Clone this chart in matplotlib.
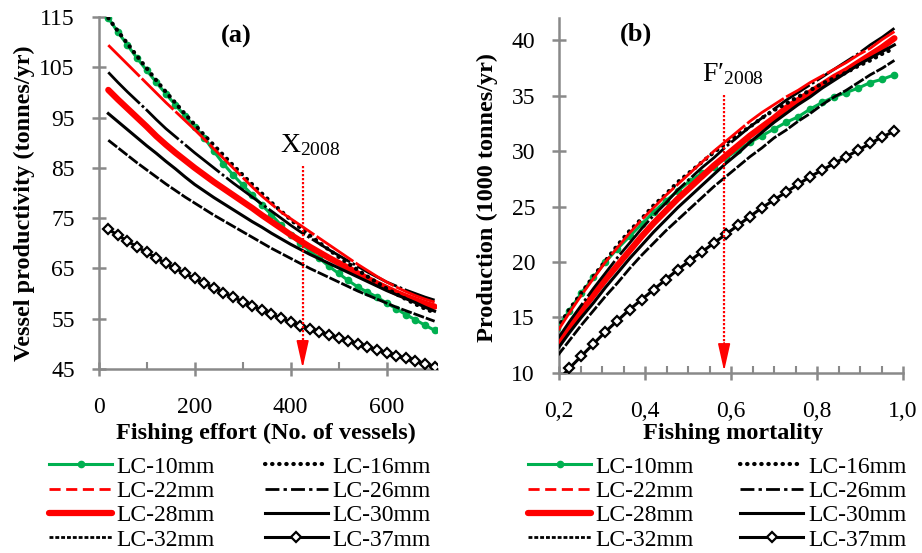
import matplotlib
matplotlib.use('Agg')
import matplotlib.pyplot as plt
from matplotlib.lines import Line2D

plt.rcParams['font.family'] = ['Liberation Serif', 'DejaVu Serif']
plt.rcParams['mathtext.fontset'] = 'custom'
plt.rcParams['mathtext.rm'] = 'Liberation Serif'
plt.rcParams['mathtext.it'] = 'Liberation Serif:italic'
plt.rcParams['mathtext.bf'] = 'Liberation Serif:bold'

GRAY = '#898989'
GREEN = '#00B050'
RED = '#FF0000'

# ---- panel (a): vessel productivity vs fishing effort ----
effort = list(range(20, 701, 20))

prod_lc10 = [114.8, 112.0, 109.4, 106.8, 104.4, 102.0, 99.7, 97.5, 95.3, 93.2, 91.0, 88.3, 85.8, 83.6, 81.6,
             79.6, 77.6, 75.7, 73.6, 71.6, 70.0, 68.5, 67.0, 65.4, 64.0, 62.6, 61.3, 60.3, 59.3, 58.1,
             57.0, 55.8, 54.8, 53.7, 52.7]
prod_lc16 = [114.8, 112.2, 109.7, 107.2, 104.8, 102.4, 100.1, 97.9, 95.7, 93.6, 91.5, 89.5, 87.5, 85.5, 83.6,
             81.7, 79.9, 78.1, 76.4, 74.7, 73.1, 71.6, 70.1, 68.7, 67.3, 66.0, 64.7, 63.4, 62.2, 61.0,
             59.9, 58.9, 57.9, 57.0, 56.2]
prod_lc22 = [109.4, 107.5, 105.6, 103.7, 101.8, 99.9, 98.0, 96.2, 94.4, 92.6, 90.7, 88.8, 86.9, 85.0, 83.1,
             81.2, 79.4, 77.8, 76.2, 74.9, 73.6, 72.3, 71.0, 69.7, 68.4, 67.1, 65.8, 64.6, 63.4, 62.3,
             61.3, 60.4, 59.6, 58.9, 58.3]
prod_lc26 = [104.0, 102.0, 100.1, 98.3, 96.5, 94.6, 92.8, 91.2, 89.6, 88.0, 86.5, 85.0, 83.5, 82.0, 80.6,
             79.2, 77.8, 76.4, 75.0, 73.6, 72.3, 71.1, 69.9, 68.7, 67.6, 66.5, 65.4, 64.3, 63.3, 62.3,
             61.5, 60.7, 60.0, 59.3, 58.7]
prod_lc28 = [100.5, 98.6, 96.8, 95.0, 93.2, 91.3, 89.6, 88.0, 86.5, 85.0, 83.6, 82.2, 80.9, 79.6, 78.3,
             77.0, 75.6, 74.3, 73.0, 71.7, 70.5, 69.3, 68.2, 67.1, 66.1, 65.1, 64.0, 63.0, 62.0, 61.1,
             60.2, 59.4, 58.7, 58.0, 57.4]
prod_lc30 = [95.8, 94.2, 92.6, 91.0, 89.4, 87.9, 86.3, 84.8, 83.2, 81.7, 80.4, 79.1, 77.9, 76.7, 75.5,
             74.3, 73.2, 72.0, 70.9, 69.8, 68.8, 67.8, 66.9, 66.0, 65.1, 64.2, 63.3, 62.4, 61.5, 60.6,
             59.8, 59.0, 58.2, 57.3, 56.5]
prod_lc32 = [90.5, 89.0, 87.5, 86.0, 84.6, 83.2, 81.8, 80.5, 79.2, 78.0, 76.8, 75.6, 74.5, 73.4, 72.3,
             71.2, 70.1, 69.0, 68.0, 67.0, 66.0, 65.0, 64.1, 63.2, 62.3, 61.4, 60.5, 59.7, 58.9, 58.1,
             57.3, 56.6, 55.9, 55.2, 54.5]
prod_lc37 = [72.8, 71.6, 70.4, 69.3, 68.2, 67.1, 66.0, 65.0, 64.0, 63.0, 62.1, 61.1, 60.2, 59.3, 58.4,
             57.5, 56.7, 55.9, 55.1, 54.3, 53.6, 53.0, 52.4, 51.8, 51.2, 50.6, 50.0, 49.4, 48.8, 48.2,
             47.6, 47.1, 46.5, 46.0, 45.4]

# ---- panel (b): production vs fishing mortality ----
mortality = [0.196, 0.224, 0.252, 0.280, 0.308, 0.336, 0.364, 0.392, 0.420, 0.448, 0.476, 0.504, 0.532,
             0.560, 0.588, 0.616, 0.644, 0.672, 0.700, 0.728, 0.756, 0.784, 0.812, 0.840, 0.868, 0.896,
             0.924, 0.952, 0.980]

catch_lc10 = [14.0, 15.6, 17.2, 18.6, 20.0, 21.2, 22.3, 23.4, 24.5, 25.5, 26.4, 27.3, 28.0, 28.6, 29.4,
              30.1, 30.8, 31.4, 32.0, 32.6, 33.1, 33.8, 34.4, 34.9, 35.3, 35.7, 36.2, 36.5, 36.9]
catch_lc16 = [14.0, 15.7, 17.2, 18.7, 20.1, 21.5, 22.8, 23.9, 25.1, 26.1, 27.2, 28.1, 29.0, 29.9, 30.7,
              31.5, 32.2, 33.0, 33.7, 34.3, 34.9, 35.5, 36.1, 36.6, 37.1, 37.7, 38.2, 38.8, 39.3]
catch_lc22 = [13.7, 15.4, 17.0, 18.5, 20.0, 21.3, 22.6, 23.8, 24.9, 26.0, 27.0, 28.0, 29.0, 30.0, 30.9,
              31.8, 32.7, 33.5, 34.2, 34.9, 35.5, 36.2, 36.8, 37.4, 38.0, 38.7, 39.3, 40.1, 40.8]
catch_lc26 = [13.0, 14.6, 16.1, 17.6, 19.0, 20.4, 21.7, 23.0, 24.2, 25.3, 26.5, 27.5, 28.5, 29.4, 30.4,
              31.3, 32.2, 33.0, 33.8, 34.6, 35.3, 36.0, 36.7, 37.4, 38.1, 38.8, 39.6, 40.3, 41.1]
catch_lc28 = [12.5, 14.1, 15.6, 17.0, 18.4, 19.7, 21.0, 22.3, 23.5, 24.6, 25.7, 26.7, 27.7, 28.7, 29.6,
              30.5, 31.4, 32.2, 33.0, 33.9, 34.6, 35.3, 36.0, 36.7, 37.3, 38.0, 38.7, 39.4, 40.2]
catch_lc30 = [12.1, 13.6, 15.0, 16.3, 17.7, 19.0, 20.3, 21.5, 22.7, 23.8, 24.9, 25.9, 26.9, 27.9, 28.9,
              29.8, 30.8, 31.7, 32.6, 33.4, 34.2, 34.9, 35.7, 36.4, 37.1, 37.8, 38.4, 39.0, 39.6]
catch_lc32 = [11.5, 12.9, 14.3, 15.6, 16.9, 18.1, 19.4, 20.6, 21.7, 22.8, 23.8, 24.8, 25.8, 26.8, 27.7,
              28.6, 29.5, 30.3, 31.2, 31.9, 32.7, 33.4, 34.2, 34.9, 35.5, 36.2, 36.9, 37.5, 38.2]
catch_lc37 = [9.2, 10.4, 11.5, 12.6, 13.7, 14.7, 15.7, 16.6, 17.5, 18.4, 19.3, 20.1, 20.9, 21.7, 22.5,
              23.3, 24.1, 24.9, 25.6, 26.3, 27.0, 27.7, 28.3, 28.9, 29.5, 30.1, 30.7, 31.3, 31.8]

series_names = ['LC-10mm', 'LC-16mm', 'LC-22mm', 'LC-26mm', 'LC-28mm', 'LC-30mm', 'LC-32mm', 'LC-37mm']
legend_order = ['LC-10mm', 'LC-22mm', 'LC-28mm', 'LC-32mm', 'LC-16mm', 'LC-26mm', 'LC-30mm', 'LC-37mm']

prod_a = [prod_lc10, prod_lc16, prod_lc22, prod_lc26, prod_lc28, prod_lc30, prod_lc32, prod_lc37]
catch_b = [catch_lc10, catch_lc16, catch_lc22, catch_lc26, catch_lc28, catch_lc30, catch_lc32, catch_lc37]

yticks_a = [45, 55, 65, 75, 85, 95, 105, 115]
xticks_a = [0, 200, 400, 600]
yticks_b = [10, 15, 20, 25, 30, 35, 40]
xticks_b = [0.2, 0.4, 0.6, 0.8, 1.0]
xticklabels_b = ['0,2', '0,4', '0,6', '0,8', '1,0']

# line look for each size class (on the plot the dashes run long, like Excel draws them)
styles = {
    'LC-10mm': dict(color=GREEN, lw=2.2, ls='-', marker='o', ms=4.5),
    'LC-16mm': dict(color='black', lw=3.0, ls=(0, (0.1, 1.6)), dash_capstyle='round'),
    'LC-22mm': dict(color=RED, lw=2.0, ls=(0, (16, 1))),
    'LC-26mm': dict(color='black', lw=2.0, ls=(0, (16, 1, 1, 1))),
    'LC-28mm': dict(color=RED, lw=4.5, ls='-', solid_capstyle='round'),
    'LC-30mm': dict(color='black', lw=2.2, ls='-'),
    'LC-32mm': dict(color='black', lw=2.0, ls=(0, (4, 0.7))),
    'LC-37mm': dict(color='black', lw=2.2, ls='-', marker='D', ms=5, mfc='white', mec='black', mew=1.6),
}
# the legend keys show the short dash patterns
legend_styles = dict(styles)
legend_styles['LC-22mm'] = dict(color=RED, lw=2.0, ls=(0, (4, 2)))
legend_styles['LC-26mm'] = dict(color='black', lw=2.0, ls=(0, (5, 1.5, 1.2, 1.5)))
legend_styles['LC-32mm'] = dict(color='black', lw=2.0, ls=(0, (1.4, 0.7)))

zorders = {'LC-10mm': 3, 'LC-16mm': 4, 'LC-22mm': 5, 'LC-26mm': 4, 'LC-28mm': 3, 'LC-30mm': 4,
           'LC-32mm': 4, 'LC-37mm': 4}


def style_axes(ax):
    for side in ['top', 'right']:
        ax.spines[side].set_visible(False)
    for side in ['left', 'bottom']:
        ax.spines[side].set_color(GRAY)
        ax.spines[side].set_linewidth(1.8)
    ax.tick_params(which='major', direction='inout', length=10.5, width=1.8, color=GRAY, labelsize=17)
    ax.tick_params(axis='y', which='major', pad=12)
    ax.tick_params(axis='x', which='major', pad=15)
    ax.tick_params(which='minor', direction='in', length=5, width=1.5, color=GRAY)


def add_legend(ax, fig, x0, colspace):
    handles = [Line2D([], [], **legend_styles[n]) for n in legend_order]
    ax.legend(handles, legend_order, ncol=2, loc='upper left',
              bbox_to_anchor=(x0 / 922, 1 - 456 / 553), bbox_transform=fig.transFigure,
              frameon=False, fontsize=17, handlelength=2.67, handletextpad=0.2,
              columnspacing=colspace, labelspacing=0.12, borderpad=0, borderaxespad=0)


def add_marker_arrow(ax, x, ytop, ybase, ytip):
    # dotted red drop line with a filled head
    ax.plot([x, x], [ytop, ybase], color=RED, lw=1.6, ls=(0, (1, 0.8)), zorder=6)
    ax.annotate('', xy=(x, ytip), xytext=(x, ybase),
                arrowprops=dict(arrowstyle='-|>,head_length=1.2,head_width=0.27', color=RED,
                                lw=1.2, mutation_scale=14, shrinkA=0, shrinkB=0), zorder=6)


fig = plt.figure(figsize=(9.22, 5.53), dpi=100)

# ---------- (a) ----------
ax1 = fig.add_axes([98.7 / 922, 1 - 369 / 553, 338.3 / 922, 352 / 553])
for name, vals in zip(series_names, prod_a):
    ax1.plot(effort, vals, zorder=zorders[name], **styles[name])
ax1.set_xlim(0, 705)
ax1.set_ylim(45, 115)
ax1.set_xticks(xticks_a)
ax1.set_xticks([100, 300, 500, 700], minor=True)
ax1.set_yticks(yticks_a)
style_axes(ax1)
ax1.set_xlabel('Fishing effort (No. of vessels)', fontsize=17.5, fontweight='bold')
ax1.xaxis.set_label_coords(0.4945, -0.153)
ax1.set_ylabel('Vessel productivity (tonnes/yr)', fontsize=17.5, fontweight='bold')
ax1.yaxis.set_label_coords(-0.188, 0.47)
ax1.text(0.406, 0.946, '(a)', transform=ax1.transAxes, fontsize=19, fontweight='bold',
         ha='center', va='center')
add_marker_arrow(ax1, 425, 85.3, 49.6, 45.2)
ax1.text(441, 88.2, r'X$_{\mathrm{2008}}$', fontsize=20, ha='center', va='baseline')
add_legend(ax1, fig, 49, 2.1)

# ---------- (b) ----------
ax2 = fig.add_axes([559 / 922, 1 - 372.7 / 553, 344 / 922, 354.4 / 553])
for name, vals in zip(series_names, catch_b):
    ax2.plot(mortality, vals, zorder=zorders[name], **styles[name])
ax2.set_xlim(0.2, 1.0)
ax2.set_ylim(10, 42)
ax2.set_xticks(xticks_b)
ax2.set_xticklabels(xticklabels_b)
ax2.set_xticks([0.25, 0.3, 0.35, 0.45, 0.5, 0.55, 0.65, 0.7, 0.75, 0.85, 0.9, 0.95], minor=True)
ax2.set_yticks(yticks_b)
style_axes(ax2)
ax2.set_xlabel('Fishing mortality', fontsize=17.5, fontweight='bold')
ax2.xaxis.set_label_coords(0.506, -0.142)
ax2.set_ylabel('Production (1000 tonnes/yr)', fontsize=17.5, fontweight='bold')
ax2.yaxis.set_label_coords(-0.177, 0.494)
ax2.text(0.224, 0.956, '(b)', transform=ax2.transAxes, fontsize=19, fontweight='bold',
         ha='center', va='center')
add_marker_arrow(ax2, 0.584, 35.1, 12.7, 10.15)
ax2.text(0.604, 36.3, 'F\u2032$_{\\mathrm{2008}}$', fontsize=20, ha='center', va='baseline')
add_legend(ax2, fig, 528, 1.95)

fig.savefig('out.png', dpi=100)
